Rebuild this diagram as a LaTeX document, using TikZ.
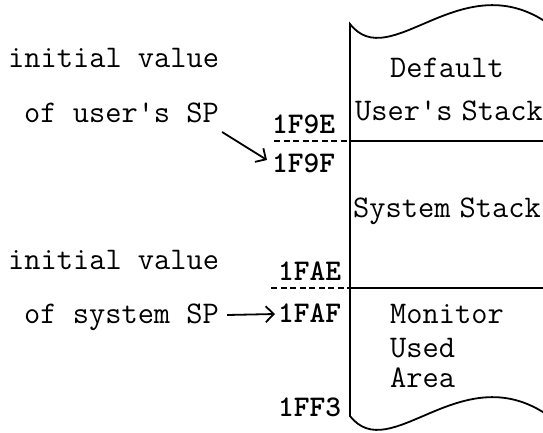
\documentclass[tikz,border=0pt]{standalone}
\usetikzlibrary{arrows.meta}
\begin{document}
\begin{tikzpicture}[x=1pt,y=-1pt,
 lbl/.style={anchor=base west,inner sep=0pt,font=\fontsize{31.5}{31.5}\selectfont\ttfamily},
 addr/.style={anchor=base west,inner sep=0pt,font=\fontsize{30}{30}\selectfont\ttfamily\bfseries},
 edge/.style={line width=1.8pt},
 dsh/.style={line width=1.8pt,dash pattern=on 6pt off 3.5pt},
 arr/.style={line width=1.8pt,-{Straight Barb[length=8pt,width=16pt,line width=1.8pt]}}]
\useasboundingbox (0,0) rectangle (543,433);
% outline of memory block
\coordinate (tl) at (350,24);
\coordinate (bl) at (350,416);
\coordinate (tr) at (546,22);
\coordinate (br) at (546,414);
\draw[edge] (tr) .. controls (460,-35) and (390,75) .. (tl) -- (bl) .. controls (390,467) and (460,357) .. (br);
% separators
\coordinate (h1l) at (350,141);
\coordinate (h1r) at (546,141);
\coordinate (h1d) at (274,141);
\coordinate (h2l) at (350,288);
\coordinate (h2r) at (546,288);
\coordinate (h2d) at (271,288);
\draw[edge] (h1l) -- (h1r);
\draw[edge] (h2l) -- (h2r);
\draw[dsh] (h1d) -- (h1l);
\draw[dsh] (h2d) -- (h2l);
% left labels
\node[lbl] (iv1) at (8,68) {initial value};
\node[lbl] (us) at (24,123) {of user\textquotesingle s SP};
\node[lbl] (iv2) at (8,269) {initial value};
\node[lbl] (ss) at (24,323) {of system SP};
% addresses
\node[addr] (f9e) at (272,133) {1F9E};
\node[addr] (f9f) at (272,172) {1F9F};
\node[addr] (fae) at (278,280) {1FAE};
\node[addr] (faf) at (278,322) {1FAF};
\node[addr] (ff3) at (278,416) {1FF3};
% region labels
\node[lbl] (def) at (390,78) {Default};
\node[lbl] (ust) at (355,121) {User\textquotesingle s\hspace{-7pt} Stack};
\node[lbl] (sys) at (353,217) {System\hspace{-7pt} Stack};
\node[lbl] (mon) at (390,323) {Monitor};
\node[lbl] (used) at (390,357) {Used};
\node[lbl] (area) at (390,387) {Area};
% arrows
\draw[arr] ([shift={(3,9)}]us.base east) -- ([shift={(-5,-12)}]f9f.base west);
\draw[arr] ([shift={(8,-8)}]ss.base east) -- ([shift={(-3,-8)}]faf.base west);
\end{tikzpicture}
\end{document}
